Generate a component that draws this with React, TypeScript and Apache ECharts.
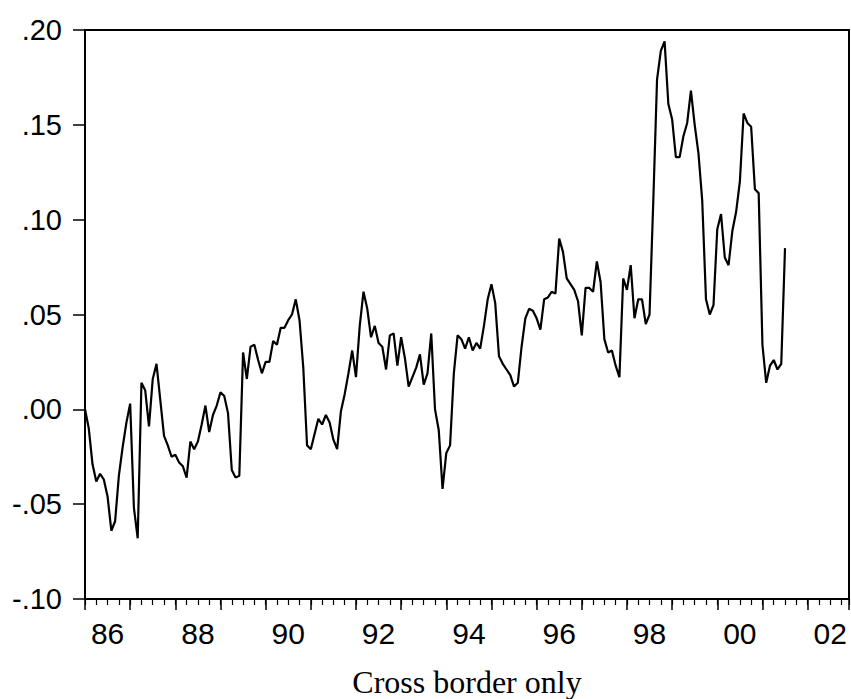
import React, { useEffect, useRef } from "react";
import * as echarts from "echarts";

// Monthly series, 1986M01 .. 2001M07 (axis range 1986M01 .. 2002M12)
const startYear = 1986;
const values: number[] = [
  // 1986
  0.000, -0.010, -0.029, -0.038, -0.034, -0.037, -0.046, -0.064, -0.059, -0.035, -0.020, -0.007,
  // 1987
  0.003, -0.052, -0.068, 0.014, 0.010, -0.009, 0.016, 0.024, 0.005, -0.014, -0.019, -0.025,
  // 1988
  -0.024, -0.028, -0.030, -0.036, -0.017, -0.021, -0.017, -0.008, 0.002, -0.012, -0.003, 0.002,
  // 1989
  0.009, 0.007, -0.002, -0.032, -0.036, -0.035, 0.030, 0.016, 0.033, 0.034, 0.026, 0.019,
  // 1990
  0.025, 0.025, 0.036, 0.034, 0.043, 0.043, 0.047, 0.050, 0.058, 0.047, 0.022, -0.019,
  // 1991
  -0.021, -0.013, -0.005, -0.008, -0.003, -0.007, -0.016, -0.021, -0.001, 0.008, 0.019, 0.031,
  // 1992
  0.017, 0.044, 0.062, 0.053, 0.038, 0.044, 0.035, 0.033, 0.021, 0.039, 0.040, 0.023,
  // 1993
  0.038, 0.027, 0.012, 0.017, 0.022, 0.029, 0.013, 0.019, 0.040, 0.000, -0.011, -0.042,
  // 1994
  -0.023, -0.019, 0.019, 0.039, 0.037, 0.032, 0.038, 0.031, 0.035, 0.032, 0.044, 0.058,
  // 1995
  0.066, 0.056, 0.028, 0.024, 0.021, 0.018, 0.012, 0.014, 0.033, 0.048, 0.053, 0.052,
  // 1996
  0.048, 0.042, 0.058, 0.059, 0.062, 0.061, 0.090, 0.083, 0.069, 0.066, 0.063, 0.057,
  // 1997
  0.039, 0.064, 0.064, 0.062, 0.078, 0.067, 0.037, 0.030, 0.031, 0.023, 0.017, 0.069,
  // 1998
  0.063, 0.076, 0.048, 0.058, 0.058, 0.045, 0.050, 0.110, 0.174, 0.189, 0.194, 0.161,
  // 1999
  0.153, 0.133, 0.133, 0.144, 0.151, 0.168, 0.150, 0.135, 0.110, 0.058, 0.050, 0.055,
  // 2000
  0.095, 0.103, 0.080, 0.076, 0.094, 0.104, 0.120, 0.156, 0.151, 0.149, 0.116, 0.114,
  // 2001
  0.034, 0.014, 0.023, 0.026, 0.021, 0.024, 0.085,
];

const xMin = 1986;
const xMax = 2002 + 11 / 12; // last month of the axis range (2002M12)
const xLabelYears = [1986, 1988, 1990, 1992, 1994, 1996, 1998, 2000, 2002];
const xTickLabels = ["86", "88", "90", "92", "94", "96", "98", "00", "02"];

const yMin = -0.1;
const yMax = 0.2;
const yInterval = 0.05;
const yTickValues = [-0.1, -0.05, 0, 0.05, 0.1, 0.15, 0.2];
const yTickLabels = ["-.10", "-.05", ".00", ".05", ".10", ".15", ".20"];

const titleText = "Cross border only";

export default function App() {
  const ref = useRef<HTMLDivElement>(null);

  useEffect(() => {
    if (!ref.current) return;
    const chart = echarts.init(ref.current, null, { renderer: "svg" });
    const data = values.map((v, i) => [startYear + i / 12, v]);

    const baseX = {
      type: "value",
      position: "bottom",
      min: xMin,
      max: xMax,
      splitLine: { show: false },
    };

    chart.setOption({
      animation: false,
      backgroundColor: "#fff",
      grid: {
        left: 85,
        top: 30,
        right: 2,
        bottom: 100,
        show: true,
        borderColor: "#000",
        borderWidth: 2,
        backgroundColor: "transparent",
      },
      xAxis: [
        {
          ...baseX,
          interval: 1,
          axisLine: { show: true, onZero: false, lineStyle: { color: "#000", width: 2 } },
          axisTick: { show: true, length: 11, lineStyle: { color: "#000", width: 1.5 } },
          axisLabel: { show: false },
        },
        {
          ...baseX,
          interval: 0.25,
          axisLine: { show: false, onZero: false },
          axisTick: { show: true, length: 6, lineStyle: { color: "#000", width: 1.2 } },
          axisLabel: { show: false },
        },
        {
          ...baseX,
          interval: 0.5,
          axisLine: { show: false, onZero: false },
          axisTick: { show: false },
          axisLabel: {
            show: true,
            margin: 19,
            fontFamily: "Liberation Sans",
            fontSize: 30,
            color: "#000",
            showMaxLabel: false,
            formatter: (v: number) => {
              for (let k = 0; k < xLabelYears.length; k++) {
                if (Math.abs(v - (xLabelYears[k] + 0.5)) < 1e-6) return xTickLabels[k];
              }
              return "";
            },
          },
        },
      ],
      yAxis: {
        type: "value",
        min: yMin,
        max: yMax,
        interval: yInterval,
        axisLine: { show: true, onZero: false, lineStyle: { color: "#000", width: 2 } },
        axisTick: { show: true, length: 12, lineStyle: { color: "#000", width: 1.5 } },
        splitLine: { show: false },
        axisLabel: {
          margin: 23,
          fontFamily: "Liberation Sans",
          fontSize: 29,
          color: "#000",
          formatter: (v: number) => {
            for (let k = 0; k < yTickValues.length; k++) {
              if (Math.abs(v - yTickValues[k]) < 1e-6) return yTickLabels[k];
            }
            return "";
          },
        },
      },
      graphic: [
        {
          type: "text",
          x: 467,
          y: 682,
          style: {
            text: titleText,
            fontFamily: "Liberation Serif",
            fontSize: 32,
            fill: "#000",
            align: "center",
            verticalAlign: "middle",
          },
        },
      ],
      series: [
        {
          type: "line",
          xAxisIndex: 0,
          data,
          showSymbol: false,
          symbol: "none",
          lineStyle: { color: "#000", width: 2.2 },
          emphasis: { disabled: true },
        },
      ],
    });

    return () => chart.dispose();
  }, []);

  return (
    <div
      ref={ref}
      style={{ position: "fixed", left: 0, top: 0, width: 851, height: 699, background: "#fff" }}
    />
  );
}
